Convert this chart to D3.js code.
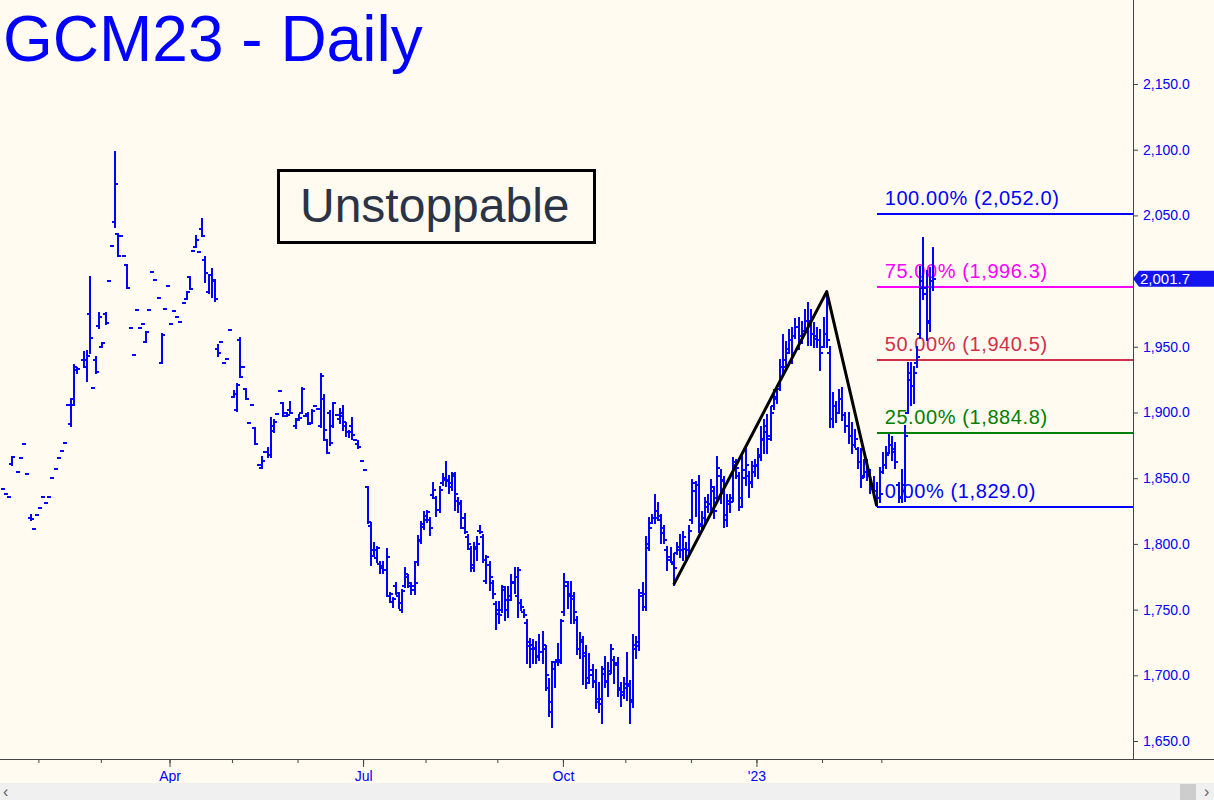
<!DOCTYPE html>
<html><head><meta charset="utf-8">
<script src="https://cdn.jsdelivr.net/npm/d3@7"></script>
<style>
html,body{margin:0;padding:0;background:#fffbf0;overflow:hidden;}
svg{display:block;}
text{font-family:"Liberation Sans",Arial,Helvetica,sans-serif;}
</style></head><body>
<svg id="chart" width="1214" height="800"></svg>
<script>
// ---- data (daily OHLC, GCM23) ----
const opens = [
1842,1838,1836,1861,null,1855,1865,1876,1853,1820,
1811,1822,1827,1836,1831,1836,1850,1857,1865,1871,
1877,1906,1891,1910,1932,null,1940,1935,1975,1919,
1940,1966,1950,1975,2000,2027,2045,2036,2034,2019,
2012,1964,1944,1978,1964,1967,1954,1978,2007,2001,
1987,1938,1979,1996,1967,1977,1973,1969,1983,1986,
2003,2023,2026,2022,2040,2016,1992,2005,2001,1948,
1954,1938,1941,1963,1912,1902,1955,1935,1918,1892,
1906,1888,1860,1858,1870,1870,1868,1886,1899,1916,
1907,1900,1902,null,1890,1895,1900,1897,1899,1892,
1905,1903,1890,1910,1879,1900,1890,1898,1895,1900,
1890,1885,1890,1879,1876,1863,1856,1843,1814,1795,
1789,1785,1782,1780,1760,1756,1768,1760,1750,1768,
1775,1768,1765,1786,1803,1813,1818,1818,1837,1835,
1826,1846,1849,1848,1843,1852,1833,1830,1820,1805,
1796,1782,1796,1810,1805,1772,1784,1770,1754,1750,
1750,1765,1750,1760,1770,1760,1755,1748,1740,1722,
1720,1720,1714,1718,1720,1690,1672,1705,1712,1712,
1748,1768,1762,1758,1742,1720,1725,1715,1698,1700,
1695,1682,1678,1705,1695,1703,1712,1708,1690,1687,
1690,1692,1680,1720,1722,1760,1752,1800,1816,1820,
1825,1818,1812,1795,1790,1785,1793,1795,1795,1796,
1795,1818,1840,1845,1815,1820,1828,1830,1840,1835,
1852,1848,1818,1830,1835,1860,1852,1835,1850,1852,
1846,1855,1860,1868,1880,1885,1882,1905,1910,1920,
1935,1940,1948,1955,1958,1965,1958,1962,1970,1970,
1960,1956,1955,1950,1960,1945,1895,1905,1900,1910,
1898,1890,1882,1875,1872,1862,1852,1855,1852,1842,
1840,1835,1855,1860,1869,1875,1870,1845,1836,1840,
1900,1925,1920,1938,1960,1995,1990,1970,2000
];
const highs = [
1842,1838,1836,1866,null,1855,1865,1876,1853,1822,
1811,1822,1827,1836,1831,1836,1850,1857,1865,1871,
1877,1906,1910,1936,1934,null,1946,1947,2003,1919,
1942,1976,1953,1976,2000,2027,2098,2036,2034,2019,
2012,1964,1944,1978,1964,1967,1961,1978,2007,2001,
1987,1960,1979,1996,1967,1977,1973,1969,1983,1992,
2003,2023,2034,2022,2047,2018,2005,2009,2001,1951,
1954,1938,1941,1963,1916,1922,1957,1935,1918,1892,
1906,1888,1860,1866,1870,1873,1896,1894,1899,1916,
1907,1900,1908,null,1895,1898,1919,1897,1900,1902,
1905,1903,1929,1913,1879,1901,1907,1898,1903,1905,
1892,1886,1896,1879,1878,1863,1856,1843,1816,1801,
1798,1786,1786,1796,1763,1759,1770,1763,1765,1782,
1776,1770,1786,1806,1817,1824,1825,1820,1846,1836,
1843,1853,1862,1852,1854,1854,1835,1833,1823,1807,
1798,1801,1805,1814,1807,1791,1786,1772,1756,1756,
1768,1767,1767,1776,1782,1782,1757,1750,1742,1728,
1727,1725,1731,1733,1722,1697,1710,1710,1724,1742,
1777,1771,1771,1763,1744,1732,1729,1722,1716,1708,
1704,1694,1706,1714,1709,1723,1714,1713,1694,1698,
1717,1696,1731,1729,1765,1770,1805,1820,1822,1837,
1831,1822,1814,1798,1797,1792,1801,1807,1809,1801,
1814,1849,1847,1852,1824,1835,1837,1849,1843,1866,
1856,1851,1837,1837,1865,1864,1854,1868,1873,1855,
1862,1864,1872,1889,1894,1898,1904,1917,1920,1940,
1959,1954,1963,1964,1971,1972,1969,1978,1983,1978,
1968,1964,1963,1972,1992,1950,1915,1908,1917,1919,
1900,1900,1892,1887,1873,1872,1864,1864,1856,1851,
1846,1858,1869,1874,1883,1881,1877,1846,1856,1890,
1938,1938,1935,1950,2011,2033,2008,2010,2025
];
const lows = [
1842,1838,1836,1860,null,1855,1865,1876,1853,1818,
1811,1822,1827,1836,1831,1836,1850,1857,1865,1871,
1877,1906,1890,1906,1930,null,1935,1924,1945,1919,
1930,1964,1950,1967,2000,2027,2041,2019,2034,2019,
1995,1964,1944,1978,1964,1967,1954,1978,2007,2001,
1987,1938,1979,1996,1967,1977,1973,1969,1983,1986,
1994,2023,2026,2022,2034,1999,1991,1988,1985,1943,
1954,1938,1941,1963,1912,1901,1927,1935,1910,1892,
1906,1876,1860,1858,1870,1866,1866,1885,1899,1916,
1897,1897,1900,null,1888,1894,1900,1897,1891,1892,
1905,1903,1889,1879,1869,1875,1889,1898,1892,1887,
1882,1881,1880,1879,1873,1863,1856,1816,1784,1791,
1786,1778,1778,1760,1756,1752,1762,1751,1748,1767,
1767,1762,1762,1784,1801,1811,1817,1807,1835,1821,
1824,1845,1844,1839,1841,1826,1824,1812,1808,1796,
1779,1779,1788,1808,1786,1770,1765,1759,1735,1740,
1748,1742,1744,1757,1763,1744,1750,1744,1709,1706,
1709,1709,1712,1709,1689,1669,1661,1691,1708,1709,
1746,1751,1740,1740,1716,1713,1693,1690,1694,1691,
1675,1672,1664,1691,1684,1702,1694,1684,1677,1683,
1681,1664,1676,1713,1719,1750,1750,1795,1816,1816,
1818,1801,1801,1780,1786,1769,1792,1790,1788,1788,
1793,1816,1821,1809,1811,1816,1824,1826,1820,1833,
1831,1813,1814,1824,1833,1850,1826,1828,1845,1836,
1843,1852,1850,1864,1869,1869,1879,1903,1907,1917,
1930,1936,1945,1938,1957,1948,1953,1961,1951,1951,
1950,1950,1932,1950,1950,1889,1889,1893,1900,1894,
1885,1877,1869,1874,1858,1843,1851,1849,1839,1836,
1829,1832,1854,1858,1869,1864,1858,1832,1832,1833,
1900,1906,1907,1935,1957,1986,1955,1962,1993
];
const closes = [
1842,1838,1836,1866,null,1855,1865,1876,1853,1819,
1811,1822,1827,1836,1831,1836,1850,1857,1865,1871,
1877,1906,1906,1935,1933,null,1940,1943,1957,1919,
1931,1973,1953,1968,2000,2027,2074,2019,2034,2019,
1995,1964,1944,1978,1964,1967,1961,1978,2007,2001,
1987,1959,1979,1996,1967,1977,1973,1969,1983,1992,
1994,2023,2031,2022,2034,2006,2005,2000,1986,1945,
1954,1938,1941,1963,1914,1921,1927,1935,1910,1892,
1906,1876,1860,1863,1870,1868,1890,1893,1899,1916,
1897,1898,1900,null,1894,1896,1918,1897,1891,1901,
1905,1903,1928,1887,1869,1877,1907,1898,1897,1893,
1885,1885,1883,1879,1874,1863,1856,1817,1791,1795,
1797,1783,1780,1790,1762,1758,1763,1755,1764,1777,
1770,1768,1770,1802,1815,1821,1824,1812,1841,1826,
1841,1850,1849,1846,1853,1838,1831,1812,1809,1800,
1784,1798,1800,1809,1788,1790,1775,1762,1747,1746,
1767,1757,1757,1771,1775,1780,1752,1746,1725,1723,
1721,1715,1718,1723,1700,1680,1710,1710,1710,1741,
1771,1760,1760,1748,1720,1727,1717,1694,1704,1696,
1680,1682,1701,1696,1701,1720,1709,1689,1685,1693,
1693,1681,1723,1725,1763,1762,1797,1812,1820,1820,
1821,1808,1803,1788,1786,1782,1798,1795,1805,1795,
1810,1846,1845,1814,1820,1832,1830,1843,1825,1858,
1849,1822,1833,1832,1862,1858,1828,1856,1860,1847,
1859,1859,1866,1879,1890,1880,1900,1912,1918,1935,
1935,1945,1955,1945,1965,1955,1960,1970,1970,1960,
1958,1955,1945,1960,1955,1895,1905,1900,1910,1898,
1890,1882,1875,1880,1862,1850,1855,1852,1842,1840,
1835,1838,1860,1868,1875,1872,1862,1835,1845,1882,
1930,1920,1930,1942,2000,1995,1968,2000,2001.7
];
const monthTickIdx = [12,32,54,74,95,116,136,159,180,200,221,242,263,282];
const monthTickLabels = ["","","Apr","","","Jul","","","Oct","","","'23","",""];
const priceTicks = [1650,1700,1750,1800,1850,1900,1950,2000,2050,2100,2150];
const fibPct = ["100.00%","75.00%","50.00%","25.00%","0.00%"];
const fibVals = [2052.0,1996.3,1940.5,1884.8,1829.0];
const fibColors = ["#0000ff","#ff00ff","#d03048","#008000","#0000ff"];
const swingIdx = [215,264,280];
const swingVals = [1769,1992,1829];
const lastPrice = 2001.7;
const titleText = "GCM23 - Daily";
const noteText = "Unstoppable";

// ---- layout ----
const W = 1214, H = 800;
const axisX = 1133, axisY = 759;
const svg = d3.select("#chart");
svg.append("rect").attr("width",W).attr("height",H).attr("fill","#fffbf0");

const N = closes.length;
const x = d3.scaleLinear().domain([0, N-1]).range([2.5, 2.5 + 3.122*(N-1)]);
const y = d3.scaleLinear().domain([1650, 2150]).range([741, 84]);

// fib lines
const fibX0 = x(swingIdx[2]);
const fibG = svg.append("g");
fibG.selectAll("line").data(fibVals).join("line")
  .attr("x1", fibX0).attr("x2", axisX)
  .attr("y1", d => Math.round(y(d)) + 0.5).attr("y2", d => Math.round(y(d)) + 0.5)
  .attr("stroke", (d,i) => fibColors[i]).attr("stroke-width", 2)
  .attr("shape-rendering", "crispEdges");

// bars (solid 2px pixel rects: stem, open tick left, close tick right)
const idx = d3.range(N).filter(i => closes[i] != null);
const barG = svg.append("g").attr("fill", "#0000ff").attr("shape-rendering", "crispEdges");
const bar = barG.selectAll("g").data(idx).join("g");
bar.append("rect")
  .attr("x", i => Math.round(x(i)) - 1).attr("width", 2)
  .attr("y", i => Math.round(y(highs[i])) - 1)
  .attr("height", i => Math.round(y(lows[i])) - Math.round(y(highs[i])) + 2);
bar.append("rect")
  .attr("x", i => Math.round(x(i)) - (highs[i] === lows[i] ? 2 : 3)).attr("width", 2)
  .attr("y", i => Math.round(y(opens[i])) - 1).attr("height", 2);
bar.append("rect")
  .attr("x", i => Math.round(x(i)) + (highs[i] === lows[i] ? 0 : 1)).attr("width", 2)
  .attr("y", i => Math.round(y(closes[i])) - 1).attr("height", 2);

// swing line
svg.append("path")
  .datum(swingIdx.map((d,i) => [d, swingVals[i]]))
  .attr("d", d3.line().x(d => x(d[0])).y(d => y(d[1])))
  .attr("fill","none").attr("stroke","#000").attr("stroke-width",3)
  .attr("stroke-linejoin","round");

// fib labels
const fmt = d3.format(",.1f");
fibG.selectAll("text").data(fibVals).join("text")
  .attr("x", fibX0 + 8).attr("y", d => y(d) - 8)
  .attr("fill", (d,i) => fibColors[i])
  .attr("font-size", 20).attr("letter-spacing", 0.6)
  .text((d,i) => `${fibPct[i]} (${fmt(d)})`);

// y axis (the tick hidden under the last-price marker is left out)
const shownTicks = priceTicks.filter(d => Math.abs(y(d) - y(lastPrice)) > 10);
const yAxis = d3.axisRight(y).tickValues(shownTicks).tickFormat(fmt).tickSize(5).tickPadding(5);
const yg = svg.append("g").attr("transform", `translate(${axisX},0)`).call(yAxis);
yg.select(".domain").remove();
yg.selectAll(".tick line").attr("stroke", "#444");
yg.selectAll(".tick text").attr("fill", "#0000ff").attr("font-size", 14)
  .attr("font-family", "'Liberation Sans',Arial,sans-serif");
svg.append("line").attr("x1", axisX + 0.5).attr("x2", axisX + 0.5).attr("y1", 0).attr("y2", axisY)
  .attr("stroke", "#444").attr("stroke-width", 1);

// x axis
svg.append("line").attr("x1", 0).attr("x2", W).attr("y1", axisY + 0.5).attr("y2", axisY + 0.5)
  .attr("stroke", "#444").attr("stroke-width", 1);
const xg = svg.append("g").attr("transform", `translate(0,${axisY})`);
const minorAxis = d3.axisBottom(x).tickValues(monthTickIdx.map(d => d - 0.5)).tickSize(4).tickFormat("");
xg.call(minorAxis);
xg.select(".domain").remove();
const majorIdx = monthTickIdx.filter((d,i) => monthTickLabels[i] !== "");
const majorLab = monthTickLabels.filter(d => d !== "");
const xg2 = svg.append("g").attr("transform", `translate(0,${axisY})`);
xg2.call(d3.axisBottom(x).tickValues(majorIdx.map(d => d - 0.5)).tickSize(8).tickPadding(4)
  .tickFormat((d,i) => majorLab[i]));
xg2.select(".domain").remove();
svg.selectAll(".tick line").attr("stroke", "#444");
xg2.selectAll(".tick text").attr("fill", "#0000ff").attr("font-size", 14)
  .attr("font-family", "'Liberation Sans',Arial,sans-serif");

// last price marker
const lpy = y(lastPrice);
svg.append("path")
  .attr("d", `M${axisX},${lpy}L${axisX+6},${lpy-8}H${W}V${lpy+8}H${axisX+6}Z`)
  .attr("fill", "#1414f0");
svg.append("text").attr("x", axisX + 7).attr("y", lpy + 5.5)
  .attr("fill", "#fff").attr("font-size", 15).text(fmt(lastPrice));

// title
svg.append("text").attr("x", 3).attr("y", 61).attr("fill", "#0000ff")
  .attr("font-size", 64).text(titleText);

// note box
svg.append("rect").attr("x", 278.5).attr("y", 170.5).attr("width", 316).attr("height", 72)
  .attr("fill", "#fffbf0").attr("stroke", "#000").attr("stroke-width", 3);
svg.append("text").attr("x", 300).attr("y", 222).attr("fill", "#2b3447")
  .attr("font-size", 48).text(noteText);

// scrollbar
svg.append("rect").attr("x", 0).attr("y", 783).attr("width", W).attr("height", 17).attr("fill", "#f0f0f0");
svg.append("rect").attr("x", 1180).attr("y", 784).attr("width", 16).attr("height", 16).attr("fill", "#cdcdcd");
svg.append("text").attr("x", 3).attr("y", 797).attr("fill", "#606060").attr("font-size", 16).text("\u2039");
svg.append("text").attr("x", 1204).attr("y", 797).attr("fill", "#606060").attr("font-size", 16).text("\u203A");
</script>
</body></html>
